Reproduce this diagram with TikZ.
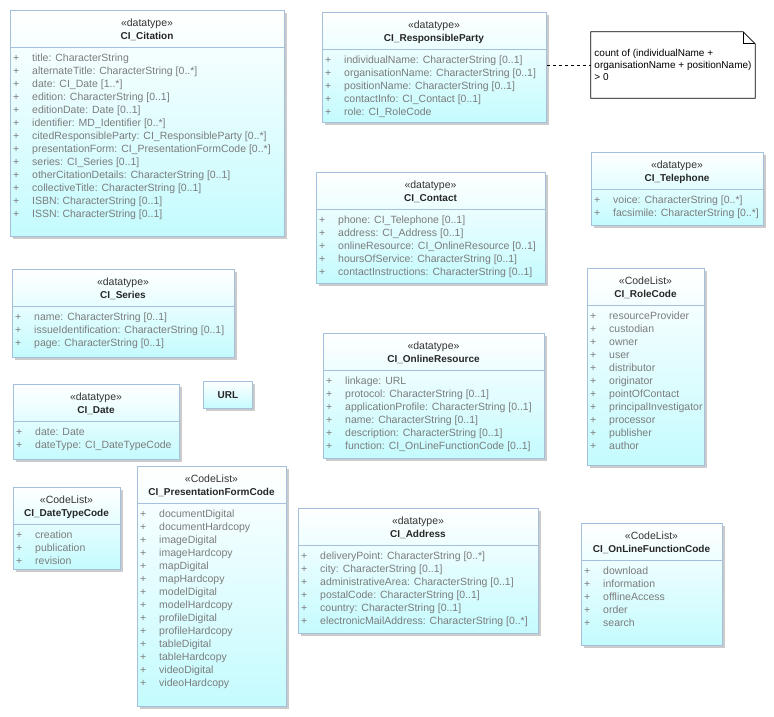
\documentclass[tikz,border=0pt]{standalone}
\usepackage{fontspec}
\setmainfont{Liberation Sans}
\usetikzlibrary{shadows}
\definecolor{bordeuml}{HTML}{A4C0DC}
\definecolor{celeste}{HTML}{C4FBFE}
\definecolor{grisattr}{HTML}{7C7C7C}
\tikzset{
  clase/.style={draw=bordeuml, line width=0.8pt, top color=white, bottom color=celeste, inner sep=0pt,
    drop shadow={shadow xshift=3pt, shadow yshift=-3pt, fill=black!40, opacity=0.5}},
  estereotipo/.style={font=\fontsize{10.5}{12}\selectfont, text=black!80, anchor=base},
  nombre/.style={font=\fontsize{10}{12}\selectfont\bfseries, text=black!85, anchor=base},
  atributo/.style={font=\fontsize{10.5}{12}\selectfont, text=grisattr, anchor=base west, inner sep=0pt},
  separador/.style={draw=bordeuml, line width=0.8pt},
  nota/.style={inner xsep=2pt, inner ysep=3pt, font=\fontsize{10}{11.8}\selectfont, align=left}
}
% caja de clase: nombre, x, y, ancho, alto, estereotipo, titulo, atributos
\newcommand{\claseuml}[8]{%
  \node[clase, anchor=north west, minimum width=#4pt, minimum height=#5pt] (#1) at (#2,#3) {};
  \node[estereotipo] at ({#2+#4/2},{#3+16}) {«#6»};
  \node[nombre] at ({#2+#4/2},{#3+29}) {#7};
  \draw[separador] ({#2},{#3+37}) -- ({#2+#4},{#3+37});
  \foreach \a [count=\i] in {#8} {
    \node[atributo] at ({#2+3},{#3+38.5+13*\i}) {+};
    \node[atributo] at ({#2+22},{#3+38.5+13*\i}) {\a};
  }
}
\begin{document}
\begin{tikzpicture}[x=1pt,y=-1pt]
  \fill[white] (0,0) rectangle (774,716);
  \useasboundingbox (0,0) rectangle (774,716);

  % Columna izquierda
  \claseuml{citation}{10}{10}{274}{226}{datatype}{CI\_Citation}{title: CharacterString,
    alternateTitle: CharacterString [0..*], date: CI\_Date [1..*], edition: CharacterString [0..1],
    editionDate: Date [0..1], identifier: MD\_Identifier [0..*],
    citedResponsibleParty: CI\_ResponsibleParty [0..*],
    presentationForm: CI\_PresentationFormCode [0..*], series: CI\_Series [0..1],
    otherCitationDetails: CharacterString [0..1], collectiveTitle: CharacterString [0..1],
    ISBN: CharacterString [0..1], ISSN: CharacterString [0..1]}
  \claseuml{series}{12}{269}{222}{88}{datatype}{CI\_Series}{name: CharacterString [0..1],
    issueIdentification: CharacterString [0..1], page: CharacterString [0..1]}
  \claseuml{date}{13}{384}{166}{75}{datatype}{CI\_Date}{date: Date, dateType: CI\_DateTypeCode}
  \claseuml{datetype}{13}{487}{107}{82}{CodeList}{CI\_DateTypeCode}{creation, publication, revision}
  \claseuml{presform}{137}{466}{149}{240}{CodeList}{CI\_PresentationFormCode}{documentDigital,
    documentHardcopy, imageDigital, imageHardcopy, mapDigital, mapHardcopy, modelDigital,
    modelHardcopy, profileDigital, profileHardcopy, tableDigital, tableHardcopy, videoDigital,
    videoHardcopy}
  \node[clase, anchor=north west, minimum width=49pt, minimum height=27pt,
    font=\fontsize{10}{12}\selectfont\bfseries, text=black!85] (url) at (203,381) {URL};

  % Columna central
  \claseuml{respparty}{322}{12}{224}{110}{datatype}{CI\_ResponsibleParty}{individualName: CharacterString [0..1],
    organisationName: CharacterString [0..1], positionName: CharacterString [0..1],
    contactInfo: CI\_Contact [0..1], role: CI\_RoleCode}
  \claseuml{contact}{316}{172}{229}{111}{datatype}{CI\_Contact}{phone: CI\_Telephone [0..1],
    address: CI\_Address [0..1], onlineResource: CI\_OnlineResource [0..1],
    hoursOfService: CharacterString [0..1], contactInstructions: CharacterString [0..1]}
  \claseuml{onlineres}{323}{333}{221}{125}{datatype}{CI\_OnlineResource}{linkage: URL,
    protocol: CharacterString [0..1], applicationProfile: CharacterString [0..1],
    name: CharacterString [0..1], description: CharacterString [0..1],
    function: CI\_OnLineFunctionCode [0..1]}
  \claseuml{address}{298}{508}{240}{125}{datatype}{CI\_Address}{deliveryPoint: CharacterString [0..*],
    city: CharacterString [0..1], administrativeArea: CharacterString [0..1],
    postalCode: CharacterString [0..1], country: CharacterString [0..1],
    electronicMailAddress: CharacterString [0..*]}

  % Columna derecha
  \claseuml{telephone}{591}{152}{172}{73}{datatype}{CI\_Telephone}{voice: CharacterString [0..*],
    facsimile: CharacterString [0..*]}
  \claseuml{rolecode}{587}{268}{117}{197}{CodeList}{CI\_RoleCode}{resourceProvider, custodian, owner,
    user, distributor, originator, pointOfContact, principalInvestigator, processor, publisher, author}
  \claseuml{onlinefn}{581}{523}{141}{122}{CodeList}{CI\_OnLineFunctionCode}{download, information,
    offlineAccess, order, search}

  % Nota de restricción
  \node[nota, minimum width=164pt, minimum height=66pt] (restriccion) at (673,65)
    {count of (individualName +\\organisationName + positionName)\\> 0};
  \draw[line width=0.8pt] (restriccion.north west) -- ([xshift=-12pt]restriccion.north east)
    -- ([yshift=-12pt]restriccion.north east) -- (restriccion.south east)
    -- (restriccion.south west) -- cycle;
  \draw[line width=0.8pt] ([xshift=-12pt]restriccion.north east) |- ([yshift=-12pt]restriccion.north east);
  \draw[dash pattern=on 3pt off 3pt, line width=0.8pt] (respparty.east |- restriccion.west) -- (restriccion.west);
\end{tikzpicture}
\end{document}
